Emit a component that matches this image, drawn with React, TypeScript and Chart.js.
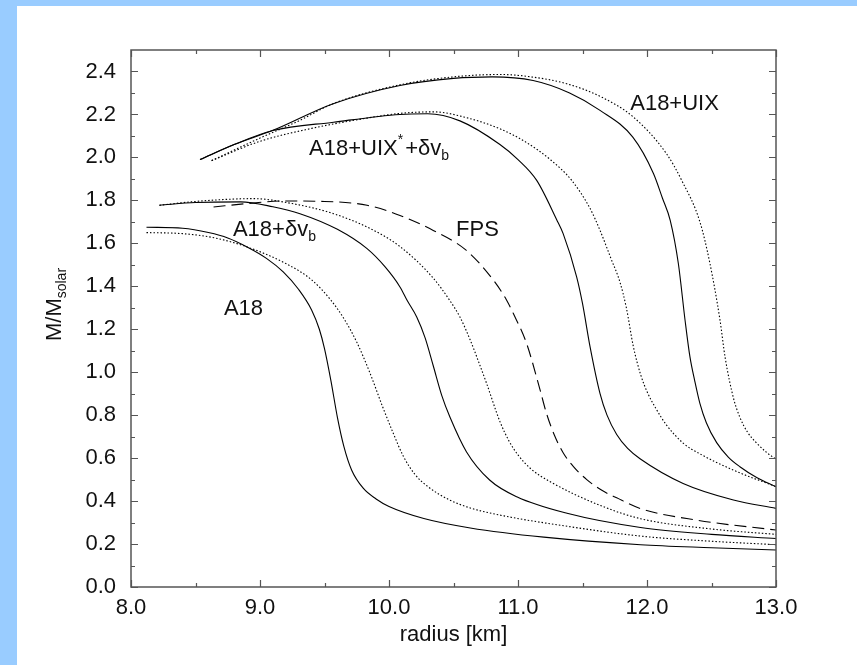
import React, { useEffect, useRef } from "react";
import { Chart, registerables } from "chart.js";

Chart.register(...registerables);

type Pt = [number, number];

// Mass-radius relations, [radius in km, M/Msolar]
const a18Solid: Pt[] = [
  [8.12, 1.675], [8.4, 1.67], [8.6, 1.65], [8.75, 1.625], [8.9, 1.583], [9.05, 1.53],
  [9.18, 1.467], [9.3, 1.385], [9.4, 1.29], [9.46, 1.2], [9.5, 1.11], [9.55, 0.96],
  [9.6, 0.79], [9.65, 0.655], [9.71, 0.545], [9.8, 0.46], [9.9, 0.41], [10.0, 0.375],
  [10.27, 0.319], [10.63, 0.275], [11.2, 0.232], [11.95, 0.197], [12.5, 0.183], [13.0, 0.172],
];
const a18Dotted: Pt[] = [
  [8.12, 1.65], [8.4, 1.645], [8.65, 1.625], [8.9, 1.583], [9.2, 1.506], [9.4, 1.43],
  [9.55, 1.335], [9.65, 1.25], [9.75, 1.14], [9.85, 1.0], [9.95, 0.84], [10.03, 0.72],
  [10.11, 0.61], [10.2, 0.525], [10.3, 0.468], [10.47, 0.405], [10.63, 0.368], [10.9, 0.33],
  [11.3, 0.29], [11.95, 0.237], [12.5, 0.213], [13.0, 0.197],
];
const dvbSolid: Pt[] = [
  [8.22, 1.777], [8.5, 1.79], [8.85, 1.793], [9.1, 1.77], [9.31, 1.738], [9.6, 1.665],
  [9.83, 1.575], [9.97, 1.49], [10.085, 1.397], [10.14, 1.335], [10.215, 1.257], [10.28, 1.16],
  [10.343, 1.03], [10.41, 0.89], [10.473, 0.79], [10.6, 0.63], [10.78, 0.498], [10.99, 0.42],
  [11.38, 0.343], [11.95, 0.277], [12.5, 0.245], [13.0, 0.226],
];
const dvbDotted: Pt[] = [
  [8.22, 1.777], [8.5, 1.795], [8.95, 1.808], [9.25, 1.785], [9.57, 1.738], [9.85, 1.67],
  [10.085, 1.585], [10.34, 1.44], [10.47, 1.335], [10.55, 1.257], [10.63, 1.149], [10.7, 1.04],
  [10.757, 0.947], [10.86, 0.77], [10.93, 0.68], [11.0, 0.615], [11.1, 0.55], [11.25, 0.49],
  [11.636, 0.38], [11.95, 0.318], [12.5, 0.27], [13.0, 0.245],
];
const fpsDashed: Pt[] = [
  [8.64, 1.769], [8.9, 1.785], [9.18, 1.797], [9.5, 1.795], [9.83, 1.777], [10.085, 1.73],
  [10.343, 1.66], [10.6, 1.567], [10.81, 1.428], [10.912, 1.335], [10.964, 1.273], [11.067, 1.133],
  [11.17, 0.92], [11.22, 0.81], [11.28, 0.71], [11.35, 0.625], [11.43, 0.56], [11.533, 0.5],
  [11.65, 0.45], [11.765, 0.415], [11.95, 0.365], [12.4, 0.31], [13.0, 0.265],
];
const uixStarSolid: Pt[] = [
  [8.535, 1.99], [8.8, 2.06], [9.1, 2.125], [9.57, 2.164], [10.085, 2.2], [10.3, 2.203],
  [10.55, 2.17], [10.86, 2.06], [11.0, 1.99], [11.145, 1.893], [11.3, 1.71], [11.35, 1.645],
  [11.455, 1.443], [11.5, 1.32], [11.558, 1.12], [11.636, 0.9], [11.69, 0.8], [11.765, 0.71],
  [11.85, 0.645], [11.946, 0.597], [12.28, 0.482], [12.67, 0.405], [13.0, 0.366],
];
const uixStarDotted: Pt[] = [
  [8.625, 1.985], [9.0, 2.075], [9.4, 2.135], [9.8, 2.18], [10.085, 2.205], [10.35, 2.212],
  [10.6, 2.185], [10.86, 2.133], [11.05, 2.075], [11.25, 1.99], [11.416, 1.893], [11.558, 1.763],
  [11.636, 1.66], [11.72, 1.53], [11.79, 1.42], [11.84, 1.3], [11.894, 1.12], [11.95, 0.99],
  [12.0, 0.91], [12.07, 0.83], [12.15, 0.755], [12.28, 0.67], [12.41, 0.62], [12.67, 0.544],
  [13.0, 0.467],
];
const uixSolid: Pt[] = [
  [8.535, 1.99], [8.8, 2.06], [9.1, 2.126], [9.567, 2.25], [10.085, 2.335], [10.5, 2.368],
  [10.8, 2.375], [11.117, 2.358], [11.4, 2.3], [11.636, 2.219], [11.89, 2.094], [12.05, 1.925],
  [12.12, 1.81], [12.18, 1.707], [12.243, 1.506], [12.295, 1.242], [12.333, 1.071], [12.37, 0.96],
  [12.41, 0.855], [12.46, 0.765], [12.54, 0.672], [12.63, 0.605], [12.72, 0.56], [12.85, 0.51],
  [13.0, 0.467],
];
const uixDotted: Pt[] = [
  [8.625, 1.985], [9.0, 2.09], [9.3, 2.17], [9.567, 2.25], [10.085, 2.338], [10.5, 2.375],
  [10.86, 2.386], [11.1, 2.375], [11.378, 2.343], [11.65, 2.28], [11.89, 2.19], [12.15, 2.018],
  [12.269, 1.893], [12.41, 1.7], [12.488, 1.506], [12.566, 1.242], [12.605, 1.071], [12.67, 0.88],
  [12.72, 0.79], [12.78, 0.72], [12.85, 0.67], [12.93, 0.625], [13.0, 0.595],
];

const xTickValues = [8, 9, 10, 11, 12, 13];
const xMinorTicks = [8.5, 9.5, 10.5, 11.5, 12.5];
const yTickValues = [0, 0.2, 0.4, 0.6, 0.8, 1.0, 1.2, 1.4, 1.6, 1.8, 2.0, 2.2, 2.4];
const yMinorTicks = [0.1, 0.3, 0.5, 0.7, 0.9, 1.1, 1.3, 1.5, 1.7, 1.9, 2.1, 2.3];

const xTitle = "radius [km]";

type Seg = { t: string; sub?: boolean; sup?: boolean };
const yTitleParts: Seg[] = [{ t: "M/M" }, { t: "solar", sub: true }];

const curveLabels: { x: number; y: number; parts: Seg[] }[] = [
  { x: 11.87, y: 2.25, parts: [{ t: "A18+UIX" }] },
  { x: 9.38, y: 2.04, parts: [{ t: "A18+UIX" }, { t: "*", sup: true }, { t: "+δv" }, { t: "b", sub: true }] },
  { x: 8.79, y: 1.66, parts: [{ t: "A18+δv" }, { t: "b", sub: true }] },
  { x: 10.52, y: 1.66, parts: [{ t: "FPS" }] },
  { x: 8.72, y: 1.296, parts: [{ t: "A18" }] },
];

const FAMILY = "'Liberation Sans', Arial, Helvetica, sans-serif";
const MAIN = 22;
const SMALL = 14;
const DOT = [1.5, 2];
const DASH = [12, 6];

function drawRich(ctx: CanvasRenderingContext2D, parts: Seg[], x: number, y: number) {
  let cx = x;
  for (const p of parts) {
    const small = p.sub || p.sup;
    ctx.font = `${small ? SMALL : MAIN}px ${FAMILY}`;
    const dy = p.sub ? 7 : p.sup ? -9 : 0;
    ctx.fillText(p.t, cx, y + dy);
    cx += ctx.measureText(p.t).width + (p.sup ? 2 : 0);
  }
  return cx - x;
}

function richWidth(ctx: CanvasRenderingContext2D, parts: Seg[]) {
  let w = 0;
  for (const p of parts) {
    ctx.font = `${p.sub || p.sup ? SMALL : MAIN}px ${FAMILY}`;
    w += ctx.measureText(p.t).width;
  }
  return w;
}

const decorPlugin = {
  id: "decor",
  afterDraw(chart: any) {
    const { ctx, chartArea: a, scales } = chart;
    const xs = scales.x;
    const ys = scales.y;
    ctx.save();
    // frame
    ctx.strokeStyle = "#555";
    ctx.lineWidth = 1.5;
    ctx.strokeRect(a.left, a.top, a.right - a.left, a.bottom - a.top);
    // inward ticks on all four sides
    ctx.lineWidth = 1.2;
    ctx.beginPath();
    const xt = (v: number, len: number) => {
      const px = Math.round(xs.getPixelForValue(v)) + 0.5;
      ctx.moveTo(px, a.bottom);
      ctx.lineTo(px, a.bottom - len);
      ctx.moveTo(px, a.top);
      ctx.lineTo(px, a.top + len);
    };
    const yt = (v: number, len: number) => {
      const py = Math.round(ys.getPixelForValue(v)) + 0.5;
      ctx.moveTo(a.left, py);
      ctx.lineTo(a.left + len, py);
      ctx.moveTo(a.right, py);
      ctx.lineTo(a.right - len, py);
    };
    xTickValues.forEach((v) => xt(v, 7));
    xMinorTicks.forEach((v) => xt(v, 4));
    yTickValues.forEach((v) => yt(v, 7));
    yMinorTicks.forEach((v) => yt(v, 4));
    ctx.stroke();

    // curve labels
    ctx.fillStyle = "#111";
    ctx.textBaseline = "middle";
    ctx.textAlign = "left";
    for (const l of curveLabels) {
      drawRich(ctx, l.parts, xs.getPixelForValue(l.x), ys.getPixelForValue(l.y));
    }

    // x title
    ctx.font = `${MAIN}px ${FAMILY}`;
    ctx.textAlign = "center";
    ctx.fillText(xTitle, (a.left + a.right) / 2, a.bottom + 48);

    // y title, rotated
    ctx.textAlign = "left";
    ctx.translate(a.left - 76, (a.top + a.bottom) / 2 - 14);
    ctx.rotate(-Math.PI / 2);
    const w = richWidth(ctx, yTitleParts);
    drawRich(ctx, yTitleParts, -w / 2, 0);
    ctx.restore();
  },
};

function line(label: string, pts: Pt[], dash: number[]) {
  return {
    label,
    data: pts.map(([x, y]) => ({ x, y })),
    borderColor: "#000",
    borderWidth: 1.1,
    borderDash: dash,
    pointRadius: 0,
    cubicInterpolationMode: "monotone" as const,
    fill: false,
  };
}

export default function App() {
  const ref = useRef<HTMLCanvasElement | null>(null);

  useEffect(() => {
    if (!ref.current) return;
    const tickFont = { family: FAMILY, size: MAIN };
    const chart = new Chart(ref.current, {
      type: "line",
      data: {
        datasets: [
          line("A18", a18Solid, []),
          line("A18 (dotted)", a18Dotted, DOT),
          line("A18+δvb", dvbSolid, []),
          line("A18+δvb (dotted)", dvbDotted, DOT),
          line("FPS", fpsDashed, DASH),
          line("A18+UIX*+δvb", uixStarSolid, []),
          line("A18+UIX*+δvb (dotted)", uixStarDotted, DOT),
          line("A18+UIX", uixSolid, []),
          line("A18+UIX (dotted)", uixDotted, DOT),
        ],
      },
      options: {
        animation: false,
        responsive: false,
        maintainAspectRatio: false,
        devicePixelRatio: 1,
        layout: { padding: { left: 0, top: 44, right: 81, bottom: 0 } },
        plugins: { legend: { display: false }, tooltip: { enabled: false } },
        scales: {
          x: {
            type: "linear",
            min: 8,
            max: 13,
            afterBuildTicks: (s: any) => {
              s.ticks = xTickValues.map((value) => ({ value }));
            },
            afterFit: (s: any) => {
              s.height = 78;
            },
            ticks: {
              callback: (v: any) => Number(v).toFixed(1),
              font: tickFont,
              color: "#111",
              padding: 8,
              maxRotation: 0,
              autoSkip: false,
            },
            grid: { display: false, drawTicks: false },
            border: { display: false },
          },
          y: {
            type: "linear",
            min: 0,
            max: 2.5,
            afterBuildTicks: (s: any) => {
              s.ticks = yTickValues.map((value) => ({ value }));
            },
            afterFit: (s: any) => {
              s.width = 114;
            },
            ticks: {
              callback: (v: any) => Number(v).toFixed(1),
              font: tickFont,
              color: "#111",
              padding: 15,
              autoSkip: false,
            },
            grid: { display: false, drawTicks: false },
            border: { display: false },
          },
        },
      },
      plugins: [decorPlugin],
    } as any);
    return () => chart.destroy();
  }, []);

  return (
    <div
      style={{
        position: "fixed",
        left: 0,
        top: 0,
        width: 857,
        height: 665,
        background: "#99ccff",
      }}
    >
      <canvas
        ref={ref}
        width={840}
        height={659}
        style={{ position: "absolute", left: 17, top: 6, width: 840, height: 659, background: "#fff" }}
      />
    </div>
  );
}
